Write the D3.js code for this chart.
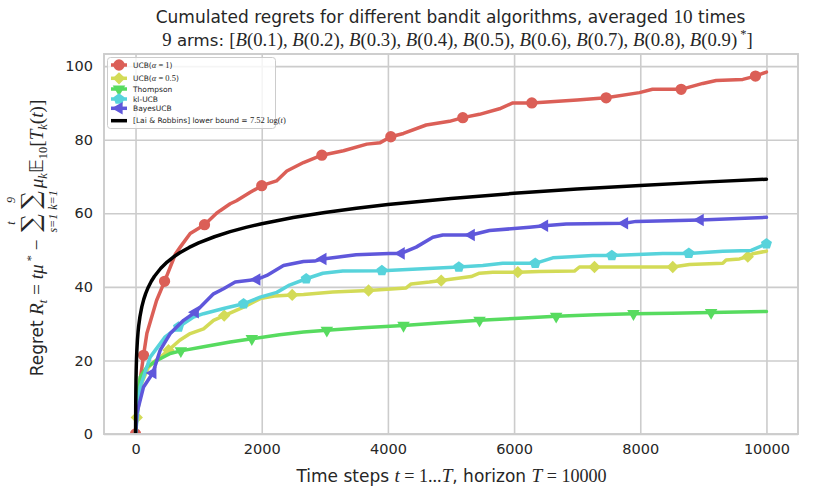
<!DOCTYPE html>
<html><head><meta charset="utf-8">
<script src="https://cdn.jsdelivr.net/npm/d3@7"></script>
<style>body{margin:0;background:#fff}</style>
</head><body><svg id="c" width="813" height="495"></svg>
<script>
// ---------------- data ----------------
const xTicks = [0, 2000, 4000, 6000, 8000, 10000];
const yTicks = [0, 20, 40, 60, 80, 100];

const tUCB1 = [0, 20, 60, 127, 180, 333, 460, 634, 708, 866, 1093, 1284, 1340, 1500, 1600, 1818, 2000, 2234, 2398, 2662, 2953, 3296, 3666, 3878, 4046, 4247, 4607, 4976, 5187, 5452, 5769, 5979, 6281, 7000, 7459, 7987, 8193, 8648, 8991, 9203, 9625, 9826, 10000];
const vUCB1 = [0, 5, 13, 21.4, 27.4, 36.3, 41.5, 49, 50.8, 54.5, 56.9, 60, 60.7, 62.6, 63.4, 65.7, 67.5, 68.8, 71.5, 73.8, 75.8, 77, 78.8, 79.2, 80.8, 81.7, 84, 85, 86, 86.9, 88.4, 90, 90, 90.8, 91.4, 92.8, 93.7, 93.7, 95.3, 96.1, 96.4, 97.3, 98.4];
const mUCB1 = [0, 127, 460, 1093, 2000, 2953, 4046, 5187, 6281, 7459, 8648, 9826];

const tUCB05 = [0, 20, 100, 200, 285, 400, 523, 700, 866, 1078, 1236, 1405, 1712, 1976, 2200, 2483, 2662, 3127, 3693, 4290, 4369, 4659, 4845, 5320, 5452, 5663, 6059, 6403, 6957, 7036, 7274, 8515, 8780, 9308, 9361, 9572, 9704, 9783, 10000];
const vUCB05 = [0, 4.5, 14, 18, 19.5, 21, 22.8, 25.5, 27.3, 28.6, 30.9, 32.2, 34.5, 36.8, 37.5, 37.8, 37.9, 38.6, 39, 39.7, 40.8, 41.3, 41.7, 42.8, 43.7, 44, 44, 44.2, 44.3, 45.4, 45.4, 45.4, 46.1, 46.4, 47.3, 47.6, 48.2, 49, 49.7];
const mUCB05 = [20, 523, 1405, 2483, 3693, 4845, 6059, 7274, 8515, 9704];

const tThompson = [0, 21, 74, 180, 338, 549, 718, 1078, 1500, 1843, 2282, 2662, 3032, 3600, 4247, 4800, 5452, 6000, 6667, 7300, 7892, 8500, 9123, 10000];
const vThompson = [0, 9.2, 15.5, 18.2, 20, 21.9, 22.6, 23.7, 25, 25.9, 27, 27.7, 28.2, 28.9, 29.5, 30.2, 30.9, 31.4, 32, 32.4, 32.7, 32.8, 33, 33.3];
const mThompson = [718, 1843, 3032, 4247, 5452, 6667, 7892, 9123];

const tKlUCB = [0, 74, 232, 470, 681, 919, 1078, 1395, 1712, 1976, 2240, 2441, 2705, 2969, 3285, 3904, 4553, 5124, 5504, 5821, 6335, 6614, 7248, 7549, 8357, 8769, 9308, 9757, 10000];
const vKlUCB = [0, 12.8, 20.9, 26.4, 29.1, 31.8, 32.7, 34.1, 35.4, 37.2, 38.5, 40.5, 42.2, 43.7, 44.3, 44.4, 44.9, 45.4, 45.8, 46.4, 46.4, 47.9, 48.5, 48.5, 49.1, 49.1, 49.7, 49.9, 51.7];
const mKlUCB = [681, 1712, 2705, 3904, 5124, 6335, 7549, 8769, 10000];

const tBayes = [0, 21, 127, 274, 391, 549, 761, 946, 1236, 1395, 1580, 1922, 2081, 2345, 2662, 2837, 2969, 3497, 4025, 4210, 4448, 4712, 4870, 5320, 5610, 6244, 6482, 6825, 7750, 7935, 8949, 10000];
const vBayes = [0, 5.6, 12.8, 16.6, 22.8, 27.3, 30.9, 33.1, 38.1, 39.5, 41.3, 42, 43.1, 45.8, 46.9, 47, 47.6, 48.7, 49.1, 49.1, 50.8, 53.5, 54.1, 54.1, 55.3, 56.2, 56.6, 57.1, 57.3, 57.8, 58.2, 58.9];
const mBayes = [274, 946, 1922, 2969, 4210, 5320, 6482, 7750, 8949];

const tLower = [1, 2, 3, 4, 5, 7, 10, 15, 20, 30, 40, 50, 70, 100, 130, 160, 200, 250, 300, 400, 500, 600, 700, 850, 1000, 1250, 1500, 1750, 2000, 2500, 3000, 3500, 4000, 5000, 6000, 7000, 8000, 9000, 10000];
const vLower = [0, 5.21, 8.26, 10.42, 12.1, 14.63, 17.32, 20.36, 22.53, 25.58, 27.74, 29.42, 31.95, 34.63, 36.6, 38.16, 39.84, 41.52, 42.89, 45.05, 46.73, 48.1, 49.26, 50.72, 51.95, 53.62, 55.0, 56.16, 57.16, 58.84, 60.21, 61.37, 62.37, 64.05, 65.42, 66.58, 67.58, 68.47, 69.26];

// ---------------- setup ----------------
const SANS = "DejaVu Sans", SERIF = "Liberation Serif";
const SF = 1.13; // math (serif) size factor
const INK = "#262626", GRID = "#cccccc";
const svg = d3.select("#c");
const M = {left: 104, right: 798, top: 54, bottom: 434};
const x = d3.scaleLinear().domain([-500, 10500]).range([M.left, M.right]);
const y = d3.scaleLinear().domain([0, 103.3]).range([M.bottom, M.top]);

// single <text> with tspans (browser does the layout)
function spanText(parent, runs, base, px, py, anchor) {
  const t = parent.append("text").attr("x", px).attr("y", py).attr("text-anchor", anchor)
    .attr("fill", INK).attr("xml:space", "preserve").style("white-space", "pre");
  let shift = 0;
  runs.forEach(r => {
    const isSans = r.f === "sans";
    const want = r.dy || 0;
    t.append("tspan").attr("dy", want - shift)
      .attr("font-family", isSans ? SANS : SERIF)
      .attr("font-style", r.i ? "italic" : "normal")
      .attr("font-size", (r.s || base) * (isSans ? 1 : SF))
      .text(r.t);
    shift = want;
  });
  return t;
}

// manual layout (needed for sums with limits)
function rich(parent, runs, base) {
  const outer = parent.append("g");
  const g = outer.append("g");
  let xp = 0;
  runs.forEach(r => {
    if (r.type === "sum") {
      const big = g.append("text").attr("font-family", "DejaVu Serif").attr("font-size", r.bs).attr("fill", INK)
        .attr("text-anchor", "middle").attr("dominant-baseline", "central").attr("y", r.by).text("\u2211");
      const up = g.append("text").attr("font-family", SERIF).attr("font-style", "italic").attr("font-size", r.ls).attr("fill", INK)
        .attr("text-anchor", "middle").attr("dominant-baseline", "central").attr("y", r.uy).text(r.up);
      const lo = g.append("text").attr("font-family", SERIF).attr("font-style", "italic").attr("font-size", r.ls).attr("fill", INK)
        .attr("text-anchor", "middle").attr("dominant-baseline", "central").attr("y", r.ly).text(r.lo);
      const els = [big, up, lo];
      const w = Math.max(...els.map(e => e.node().getBBox().width));
      els.forEach(e => e.attr("x", xp + w / 2 + 2));
      xp += w + 4;
    } else {
      const isSans = r.f === "sans";
      const size = (r.s || base) * (isSans ? 1 : SF);
      const t = g.append("text").attr("x", xp).attr("y", r.dy || 0)
        .attr("font-family", isSans ? SANS : SERIF)
        .attr("font-style", r.i ? "italic" : "normal")
        .attr("font-size", size).attr("fill", INK).attr("xml:space", "preserve")
        .style("white-space", "pre").text(r.t);
      xp += t.node().getComputedTextLength();
    }
  });
  const bb = g.node().getBBox();
  g.attr("transform", `translate(${-(bb.x + bb.width / 2)},0)`);
  return {g: outer, width: bb.width};
}

// ---------------- grid & frame ----------------
const gridG = svg.append("g");
gridG.append("g").attr("transform", `translate(0,${M.bottom})`)
  .call(d3.axisBottom(x).tickValues(xTicks).tickSize(-(M.bottom - M.top)).tickFormat(""))
  .call(g => g.select(".domain").remove())
  .call(g => g.selectAll("line").attr("stroke", GRID).attr("stroke-width", 1.6));
gridG.append("g").attr("transform", `translate(${M.left},0)`)
  .call(d3.axisLeft(y).tickValues(yTicks).tickSize(-(M.right - M.left)).tickFormat(""))
  .call(g => g.select(".domain").remove())
  .call(g => g.selectAll("line").attr("stroke", GRID).attr("stroke-width", 1.6));

// tick labels
svg.append("g").attr("transform", `translate(0,${M.bottom})`)
  .call(d3.axisBottom(x).tickValues(xTicks).tickSize(0).tickPadding(10).tickFormat(d3.format("d")))
  .call(g => g.select(".domain").remove())
  .call(g => g.selectAll("text").attr("font-family", SANS).attr("font-size", 14.5).attr("fill", INK));
svg.append("g").attr("transform", `translate(${M.left},0)`)
  .call(d3.axisLeft(y).tickValues(yTicks).tickSize(0).tickPadding(11).tickFormat(d3.format("d")))
  .call(g => g.select(".domain").remove())
  .call(g => g.selectAll("text").attr("font-family", SANS).attr("font-size", 14.5).attr("fill", INK));

// ---------------- series ----------------
const pentagon = {draw(ctx, size) {
  const r = Math.sqrt(size / 2.378);
  for (let k = 0; k < 5; k++) {
    const a = -Math.PI / 2 + k * 2 * Math.PI / 5;
    const px = r * Math.cos(a), py = r * Math.sin(a);
    if (k) ctx.lineTo(px, py); else ctx.moveTo(px, py);
  }
  ctx.closePath();
}};
const symbols = {
  circle: {type: d3.symbolCircle, size: 100, rot: 0},
  diamond: {type: d3.symbolSquare, size: 76, rot: 45},
  tdown: {type: d3.symbolTriangle, size: 68, rot: 180},
  pent: {type: pentagon, size: 80, rot: 0},
  tleft: {type: d3.symbolTriangle, size: 68, rot: -90}
};
const series = [
  {t: tUCB1, v: vUCB1, m: mUCB1, color: "#db5f57", sym: "circle"},
  {t: tUCB05, v: vUCB05, m: mUCB05, color: "#d3db57", sym: "diamond"},
  {t: tThompson, v: vThompson, m: mThompson, color: "#57db5f", sym: "tdown"},
  {t: tKlUCB, v: vKlUCB, m: mKlUCB, color: "#57d3db", sym: "pent"},
  {t: tBayes, v: vBayes, m: mBayes, color: "#5f57db", sym: "tleft"},
  {t: tLower, v: vLower, m: [], color: "#000000", sym: null}
];

svg.append("clipPath").attr("id", "clip").append("rect")
  .attr("x", M.left).attr("y", M.top).attr("width", M.right - M.left).attr("height", M.bottom - M.top);
const plot = svg.append("g").attr("clip-path", "url(#clip)");
const line = d3.line().x(d => x(d[0])).y(d => y(d[1]));

series.forEach(s => {
  const pts = s.t.map((t, i) => [t, s.v[i]]);
  plot.append("path").datum(pts).attr("d", line).attr("fill", "none")
    .attr("stroke", s.color).attr("stroke-width", 3.5).attr("stroke-linejoin", "round").attr("stroke-linecap", "round");
  if (s.sym) {
    const sy = symbols[s.sym];
    const path = d3.symbol(sy.type, sy.size)();
    s.m.forEach(mt => {
      const p = pts[s.t.indexOf(mt)];
      plot.append("path").attr("d", path).attr("fill", s.color)
        .attr("transform", `translate(${x(p[0])},${y(p[1])}) rotate(${sy.rot})`);
    });
  }
});

// frame
svg.append("rect").attr("x", M.left).attr("y", M.top).attr("width", M.right - M.left).attr("height", M.bottom - M.top)
  .attr("fill", "none").attr("stroke", GRID).attr("stroke-width", 1.9);

// ---------------- legend ----------------
const leg = svg.append("g");
leg.append("rect").attr("x", 107.5).attr("y", 57.5).attr("width", 168).attr("height", 71).attr("rx", 3)
  .attr("fill", "#ffffff").attr("fill-opacity", 0.8).attr("stroke", GRID).attr("stroke-width", 1);
const legRows = [65, 78.3, 89, 99, 108.3, 120.7];
const legLabels = [
  [{t: "UCB(", f: "sans"}, {t: "\u03b1", i: true}, {t: " = 1"}, {t: ")", f: "sans"}],
  [{t: "UCB(", f: "sans"}, {t: "\u03b1", i: true}, {t: " = 0.5"}, {t: ")", f: "sans"}],
  [{t: "Thompson", f: "sans"}],
  [{t: "kl-UCB", f: "sans"}],
  [{t: "BayesUCB", f: "sans"}],
  [{t: "[Lai & Robbins] lower bound = ", f: "sans"}, {t: "7.52 log("}, {t: "t", i: true}, {t: ")"}]
];
series.forEach((s, i) => {
  const cy = legRows[i];
  leg.append("line").attr("x1", 111).attr("x2", 127).attr("y1", cy).attr("y2", cy)
    .attr("stroke", s.color).attr("stroke-width", 3.5);
  if (s.sym) {
    const sy = symbols[s.sym];
    leg.append("path").attr("d", d3.symbol(sy.type, sy.size)()).attr("fill", s.color)
      .attr("transform", `translate(119,${cy}) rotate(${sy.rot})`);
  }
  spanText(leg, legLabels[i], 7.5, 133, cy + 2.7, "start");
});

// ---------------- titles & labels ----------------
spanText(svg, [
  {t: "Cumulated regrets for different bandit algorithms, averaged ", f: "sans"},
  {t: "10"}, {t: " times", f: "sans"}], 17, 450.5, 23, "middle");

const arms = [];
[0.1, 0.2, 0.3, 0.4, 0.5, 0.6, 0.7, 0.8, 0.9].forEach((p, k) => {
  arms.push({t: "B", i: true});
  arms.push({t: "(" + p + ")" + (k < 8 ? ", " : "")});
});
arms.push({t: " *", s: 11, dy: -8});
arms.push({t: "]"});
spanText(svg, [{t: "9"}, {t: " arms: ", f: "sans"}, {t: "["}].concat(arms), 16.6, 457.5, 46, "middle");

spanText(svg, [
  {t: "Time steps ", f: "sans"}, {t: "t", i: true}, {t: " = 1...", s: 16}, {t: "T", i: true},
  {t: ", horizon ", f: "sans"}, {t: "T", i: true}, {t: " = 10000", s: 16}], 17, 451.5, 482, "middle");

const yl = rich(svg, [
  {t: "Regret ", f: "sans"}, {t: "R", i: true}, {t: "t", i: true, s: 11, dy: 4},
  {t: " = "}, {t: "t\u03bc", i: true}, {t: " *", s: 11, dy: -8}, {t: " \u2212 "},
  {type: "sum", bs: 25, by: -13, ls: 12, up: "t", uy: -32, lo: "s=1", ly: 10},
  {type: "sum", bs: 25, by: -13, ls: 12, up: "9", uy: -32, lo: "k=1", ly: 10},
  {t: "\u03bc", i: true}, {t: "k", i: true, s: 11, dy: 4},
  {t: "\ud835\udd3c"}, {t: "10", s: 11, dy: 4}, {t: "["}, {t: "T", i: true}, {t: "k", i: true, s: 11, dy: 4},
  {t: "("}, {t: "t", i: true}, {t: ")]"}], 17);
yl.g.attr("transform", `translate(43,238) rotate(-90)`);
</script>
</body></html>
